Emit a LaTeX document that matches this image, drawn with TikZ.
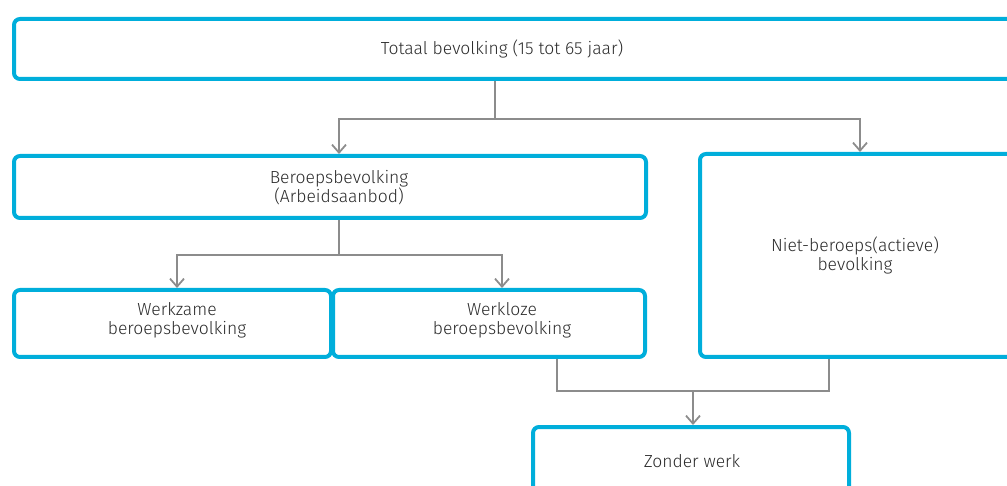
\documentclass[tikz,border=0pt]{standalone}
\usepackage{fontspec}
\setmainfont{Fira Sans Light}
\usetikzlibrary{arrows.meta}
\definecolor{kader}{HTML}{00AEDB}
\definecolor{lijn}{HTML}{8C8C8C}
\definecolor{tekst}{HTML}{2B2B2B}

\begin{document}
\begin{tikzpicture}[x=1pt,y=-1pt,
  box/.style={draw=kader,line width=4pt,rounded corners=6pt},
  txt/.style={text=tekst,align=center,font=\fontsize{17.5}{19}\selectfont},
  link/.style={draw=lijn,line width=1.8pt},
  pijl/.style={link,-{Straight Barb[length=8pt,width=14pt]}}]
\useasboundingbox (0,0) rectangle (1007,486);
\clip (0,0) rectangle (1007,486);

% kaders
\node[box,minimum width=1016pt,minimum height=60pt] (totaal) at (522,49) {};
\node[box,minimum width=632pt,minimum height=62pt] (beroeps) at (330,187) {};
\node[box,minimum width=320pt,minimum height=203pt] (niet) at (860,255.5) {};
\node[box,minimum width=317pt,minimum height=67pt] (werkzaam) at (172.5,323.5) {};
\node[box,minimum width=312pt,minimum height=67pt] (werkloos) at (489,323.5) {};
\node[box,minimum width=316pt,minimum height=80pt] (zonder) at (691,467) {};

% teksten
\node[txt] (totaalt) at (502,49) {Totaal bevolking (15 tot 65 jaar)};
\node[txt] (beroepst) at (339,188) {Beroepsbevolking\\(Arbeidsaanbod)};
\node[txt] (nietT) at (855,255) {Niet-beroeps(actieve)\\bevolking};
\node[txt] (werkzaamt) at (177,320) {Werkzame\\beroepsbevolking};
\node[txt] (werkloost) at (502,320) {Werkloze\\beroepsbevolking};
\node[txt] (zondert) at (692,461) {Zonder werk};

% verbindingen
\coordinate (splitA) at (495,119);
\coordinate (splitB) at (339,255);
\coordinate (splitC) at (693,391);
\coordinate (uitA) at (557,0);
\coordinate (uitB) at (829,0);
\draw[link] (totaal.south -| splitA) -- (splitA);
\draw[pijl] (splitA) -| (beroeps.north -| beroepst);
\draw[pijl] (splitA) -| (niet.north);
\draw[link] (beroeps.south -| splitB) -- (splitB);
\draw[pijl] (splitB) -| (werkzaam.north -| werkzaamt);
\draw[pijl] (splitB) -| (werkloos.north -| werkloost);
\draw[link] (werkloos.south -| uitA) |- (splitC) -| (niet.south -| uitB);
\draw[pijl] (splitC) -- (zonder.north -| splitC);
\end{tikzpicture}
\end{document}
